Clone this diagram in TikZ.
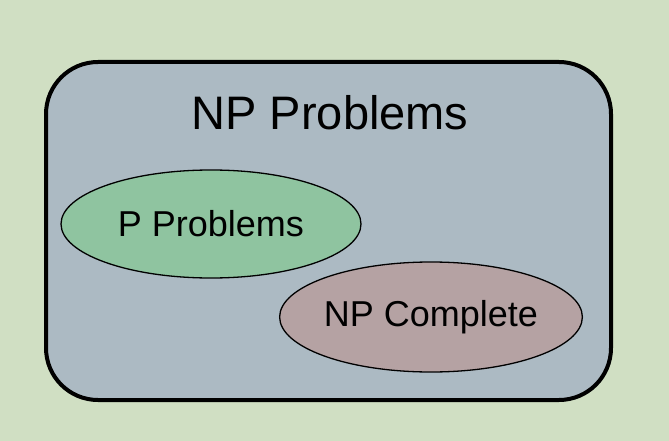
\documentclass[tikz,border=0pt]{standalone}
\usepackage{fontspec}
\setmainfont{Liberation Sans}
\usetikzlibrary{shapes.geometric,positioning}
\definecolor{bgcol}{HTML}{D0DFC3}
\definecolor{boxcol}{HTML}{ACBAC3}
\definecolor{pcol}{HTML}{8FC4A0}
\definecolor{npccol}{HTML}{B5A2A3}

\tikzset{
  classset/.style={draw=black, ellipse, line width=1.3pt, inner sep=0pt,
    minimum width=300pt, minimum height=108pt, font=\fontsize{36}{43}\selectfont}
}

\begin{document}
\begin{tikzpicture}[x=1pt, y=-1pt]
    % Komplexitaetsklassen
    \fill[bgcol] (0,0) rectangle (669,441);
    \useasboundingbox (0,0) rectangle (669,441);

    \draw[black, line width=4pt, fill=boxcol, rounded corners=52pt] (46,62) rectangle (611,400);
    \node[font=\fontsize{47}{56}\selectfont] (np) at (330,113) {NP Problems};

    \node[classset, fill=pcol] (p) at (211,224) {P Problems};
    \node[classset, fill=npccol, minimum height=110pt] (npc) at (431,317) {NP Complete};
\end{tikzpicture}
\end{document}
